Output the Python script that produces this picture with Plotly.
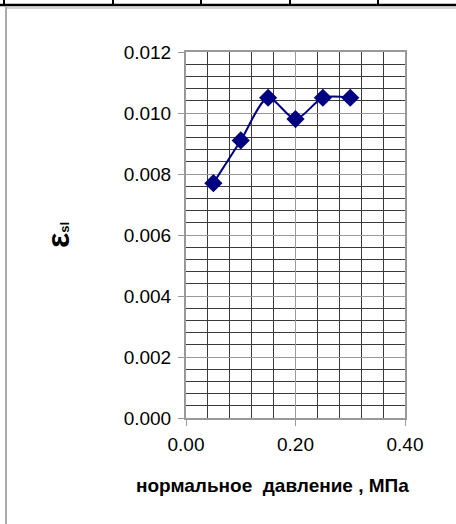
import plotly.graph_objects as go

# Data
pressure = [0.05, 0.10, 0.15, 0.20, 0.25, 0.30]
strain = [0.0077, 0.0091, 0.0105, 0.0098, 0.0105, 0.0105]

W, H = 456, 524
L, R, T, B = 186, 51, 52, 106
pw, ph = W - L - R, H - T - B


# helpers to place frame decorations in pixel units
def px(x):
    return (x - L) / pw


def py(y):
    return 1 - (y - T) / ph


fig = go.Figure()
fig.add_trace(go.Scatter(
    x=pressure, y=strain,
    mode='lines+markers',
    line=dict(color='#000080', width=2, shape='spline', smoothing=0.8),
    marker=dict(symbol='diamond', size=14, color='#000080'),
    showlegend=False,
))

grid_col = '#3a3a3a'
fig.update_xaxes(
    range=[0, 0.4], dtick=0.2, tickformat='.2f',
    showgrid=True, gridcolor='#999999', gridwidth=1,
    minor=dict(dtick=0.04, showgrid=True, gridcolor=grid_col, gridwidth=1),
    showline=True, linecolor='#999999', linewidth=2, mirror=True,
    ticks='outside', ticklen=6, tickcolor='#999999',
    tickfont=dict(size=19, color='black'), ticklabelstandoff=2,
    zeroline=False,
)
fig.update_yaxes(
    range=[0, 0.012], dtick=0.002, tickformat='.3f',
    showgrid=True, gridcolor='#999999', gridwidth=1,
    minor=dict(dtick=0.0004, showgrid=True, gridcolor=grid_col, gridwidth=1),
    showline=True, linecolor='#999999', linewidth=2, mirror=True,
    ticks='outside', ticklen=6, tickcolor='#999999',
    tickfont=dict(size=19, color='black'), ticklabelstandoff=3,
    zeroline=False,
    title=dict(text="<b>ε<span style='font-size:13px'>sl</span></b>",
               font=dict(size=32, color='black'), standoff=44),
)

# x title sits left of the plot centre in the reference
fig.add_annotation(
    text='<b>нормальное  давление , МПа</b>', font=dict(size=19, color='black'),
    xref='paper', yref='paper', x=px(272), y=py(485), showarrow=False,
    xanchor='center', yanchor='middle',
)

# frame of the surrounding sheet
shapes = [
    dict(type='line', x0=px(0), x1=px(W), y0=py(5), y1=py(5), line=dict(color='black', width=2.5)),
    dict(type='line', x0=px(6), x1=px(W), y0=py(8), y1=py(8), line=dict(color='#aaaaaa', width=1)),
    dict(type='line', x0=px(6), x1=px(6), y0=py(7), y1=py(H), line=dict(color='#aaaaaa', width=2)),
]
for xd in [4, 113, 201, 290, 378]:
    shapes.append(dict(type='line', x0=px(xd), x1=px(xd), y0=py(0), y1=py(5),
                       line=dict(color='black', width=2)))
for s in shapes:
    s.update(xref='paper', yref='paper', layer='above')

fig.update_layout(
    width=W, height=H,
    margin=dict(l=L, r=R, t=T, b=B),
    plot_bgcolor='white', paper_bgcolor='white',
    font=dict(family='Liberation Sans, Arial, sans-serif', color='black'),
    shapes=shapes,
)

fig.write_html("out.html", config={'displayModeBar': False},
               post_script="document.body.style.margin='0';")
